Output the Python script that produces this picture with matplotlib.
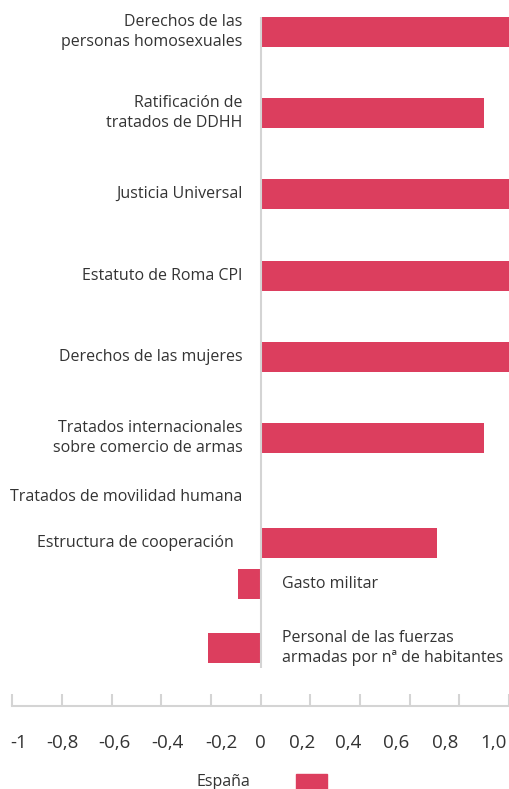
import matplotlib
matplotlib.use("Agg")
import matplotlib.pyplot as plt
from matplotlib.patches import Rectangle
from matplotlib.transforms import ScaledTranslation

plt.rcParams['font.family'] = ['Open Sans', 'DejaVu Sans']

# indicadores y puntuaciones (escala -1 a 1)
indicadores = [
    "Derechos de las\npersonas homosexuales",
    "Ratificación de\ntratados de DDHH",
    "Justicia Universal",
    "Estatuto de Roma CPI",
    "Derechos de las mujeres",
    "Tratados internacionales\nsobre comercio de armas",
    "Tratados de movilidad humana",
    "Estructura de cooperación",
    "Gasto militar",
    "Personal de las fuerzas\narmadas por nª de habitantes",
]
valores = [1.0, 0.9, 1.0, 1.0, 1.0, 0.9, 0.0, 0.71, -0.09, -0.21]
serie = "España"

ticks = [-1, -0.8, -0.6, -0.4, -0.2, 0, 0.2, 0.4, 0.6, 0.8, 1.0]
tick_labels = ["-1", "-0,8", "-0,6", "-0,4", "-0,2", "0",
               "0,2", "0,4", "0,6", "0,8", "1,0"]

# layout: centro de cada fila (px desde arriba) y separacion de la etiqueta
fila_y = [32, 113, 194, 276, 357, 438, 497, 543, 584, 648]
sep_etiqueta = [18, 18, 18, 18, 18, 18, 18, 27, 21, 21]
# desplazamiento horizontal (px) de cada etiqueta del eje
desp_tick = [6, 0, 3, 6, 10, 0, -8, -12, -14, -14, -16]

rojo = '#dc3e5e'
gris = '#d4d4d4'
texto = '#333333'

W, H = 510, 789
fig = plt.figure(figsize=(W / 100, H / 100), dpi=100)
ax = fig.add_axes([12.3 / W, 1 - 706 / H, (509 - 12.3) / W, 706 / H])
ax.set_xlim(-1, 1)
ax.set_ylim(706, 0)

ax.barh(fila_y, valores, height=30, color=rojo, zorder=2)
ax.vlines(0, 17, 668, color=gris, lw=1.5, zorder=3)

for nombre, v, y, sep in zip(indicadores, valores, fila_y, sep_etiqueta):
    if v >= 0:
        ax.annotate(nombre, xy=(0, y), xytext=(-sep, 0), textcoords='offset pixels',
                    ha='right', va='center', fontsize=11.5, color=texto,
                    linespacing=1.35, multialignment='right')
    else:
        ax.annotate(nombre, xy=(0, y), xytext=(sep, 0), textcoords='offset pixels',
                    ha='left', va='center', fontsize=11.5, color=texto,
                    linespacing=1.35, multialignment='left')

for lado in ['left', 'top', 'right']:
    ax.spines[lado].set_visible(False)
ax.spines['bottom'].set_color(gris)
ax.spines['bottom'].set_linewidth(1.5)
ax.set_yticks([])
ax.set_xticks(ticks)
ax.set_xticklabels(tick_labels)
ax.tick_params(axis='x', direction='in', length=8.5, width=1.5, color=gris,
               pad=20, labelsize=13.5, labelcolor=texto)
for lab, dx in zip(ax.get_xticklabels(), desp_tick):
    lab.set_transform(lab.get_transform() + ScaledTranslation(dx / 100, 0, fig.dpi_scale_trans))

# leyenda
fig.text(197 / W, 1 - 786 / H, serie, ha='left', va='baseline',
         fontsize=11.5, color=texto)
fig.patches.append(Rectangle((296 / W, 1 - 790 / H), 31 / W, 16 / H,
                             transform=fig.transFigure, color=rojo))

fig.savefig("out.png", dpi=100)
